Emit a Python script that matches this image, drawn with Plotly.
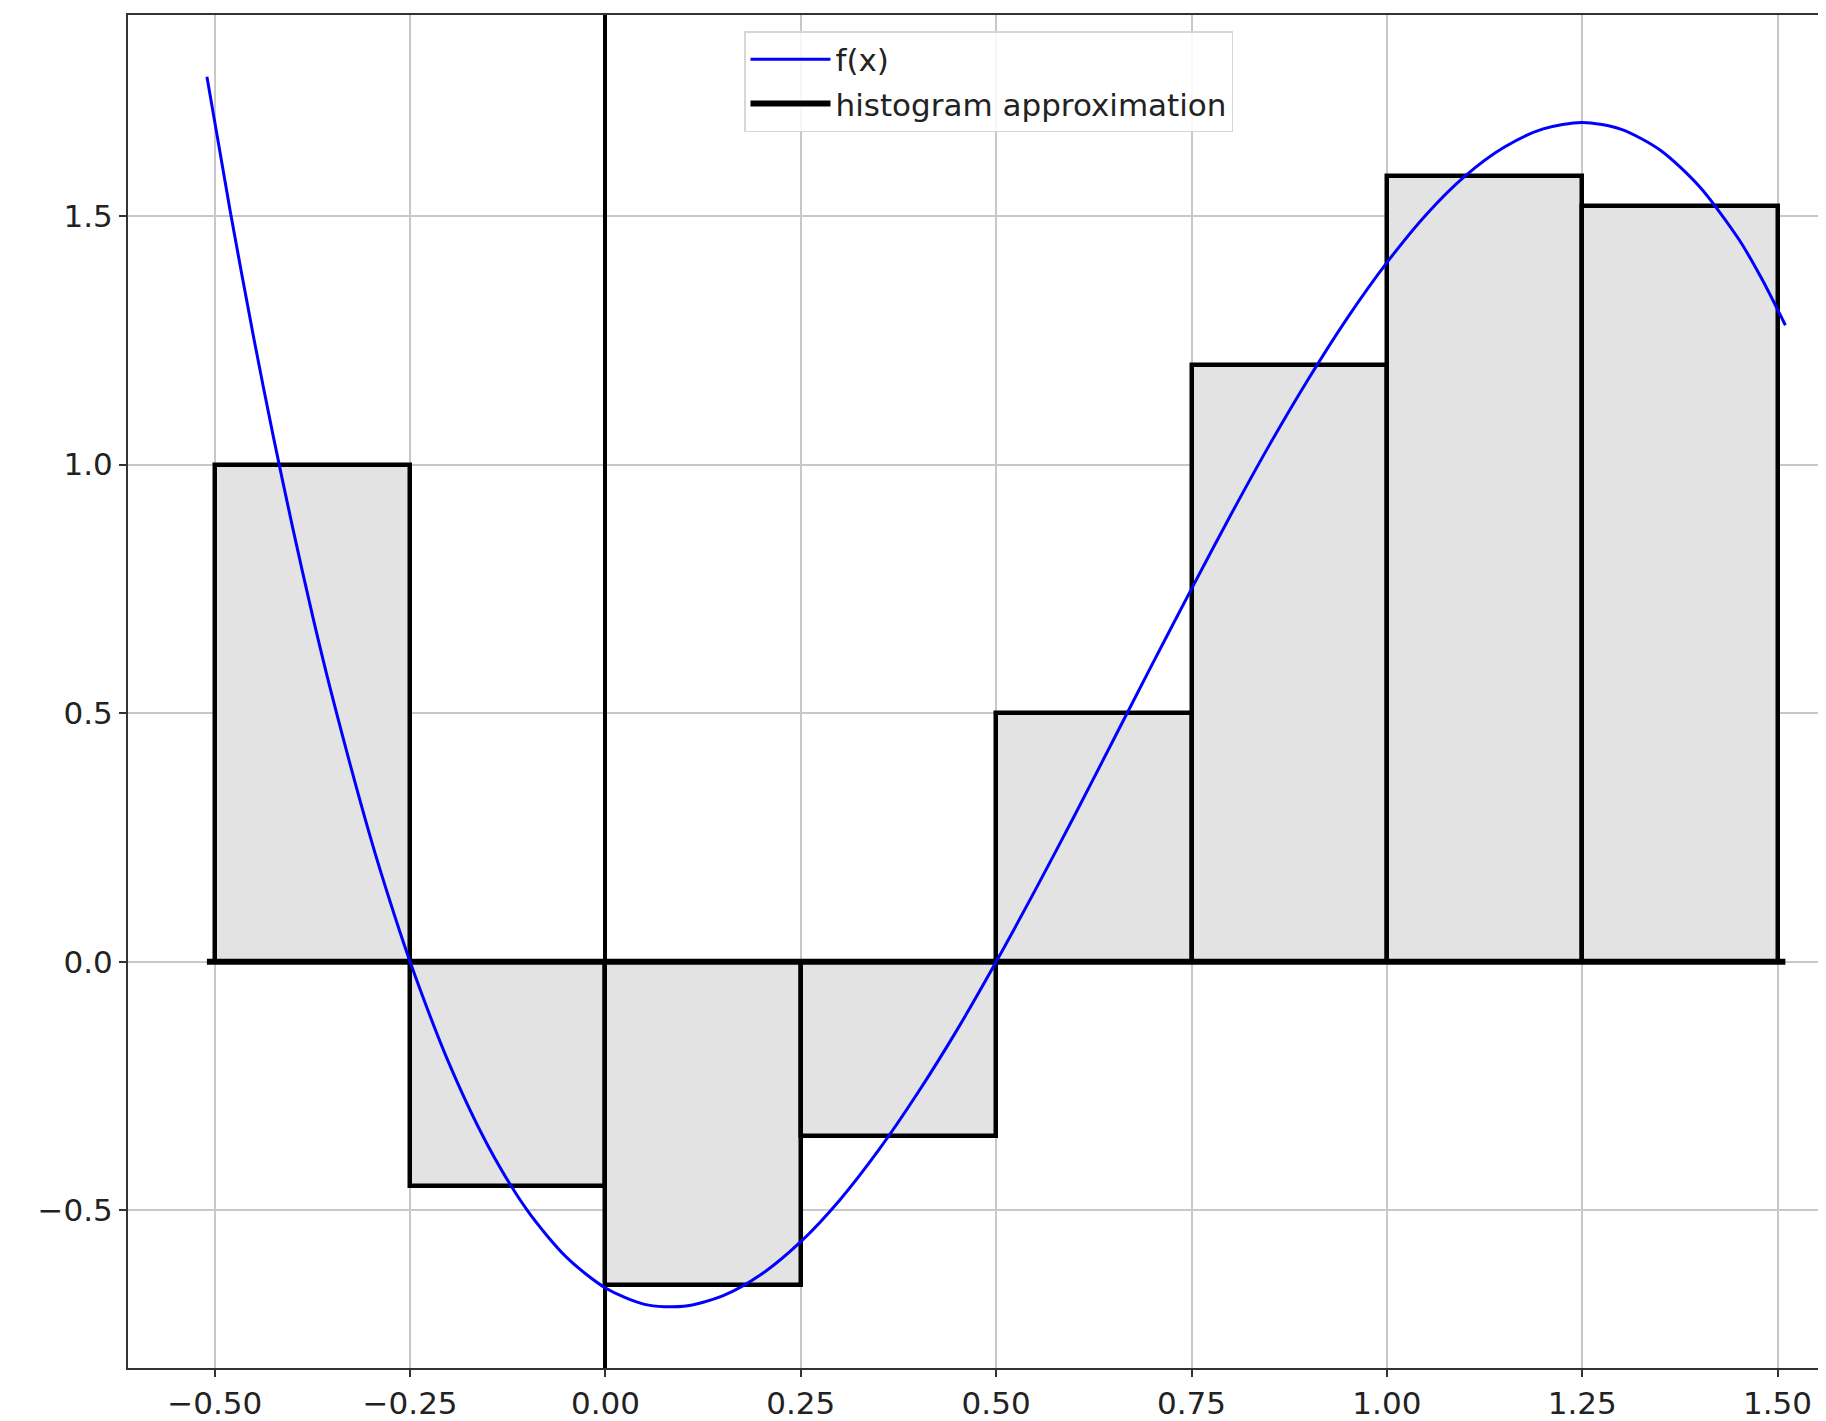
import plotly.graph_objects as go

# ---- data ----
bin_edges = [-0.5, -0.25, 0.0, 0.25, 0.5, 0.75, 1.0, 1.25, 1.5]
bar_heights = [1.0, -0.45, -0.65, -0.35, 0.5, 1.2, 1.58, 1.52]

curve_x = [-0.51, -0.48, -0.45, -0.425, -0.4, -0.375, -0.35, -0.3, -0.275, -0.25, -0.2, -0.15,
           -0.1, -0.05, 0.0, 0.05, 0.1, 0.15, 0.2, 0.25, 0.3, 0.35, 0.4, 0.45, 0.5, 0.55,
           0.6, 0.65, 0.7, 0.75, 0.8, 0.85, 0.9, 0.95, 1.0, 1.05, 1.1, 1.15, 1.2, 1.25,
           1.3, 1.35, 1.4, 1.45, 1.48, 1.51]
curve_y = [1.78, 1.508, 1.254, 1.056, 0.871, 0.697, 0.536, 0.246, 0.118, 0.0, -0.205, -0.371,
           -0.50, -0.594, -0.656, -0.689, -0.693, -0.672, -0.628, -0.563, -0.479, -0.378, -0.263, -0.137, 0.0, 0.144,
           0.293, 0.446, 0.599, 0.75, 0.898, 1.040, 1.173, 1.296, 1.406, 1.502, 1.580, 1.638, 1.675, 1.688,
           1.674, 1.632, 1.559, 1.454, 1.373, 1.280]

baseline_x = [-0.51, 1.51]
baseline_y = [0.0, 0.0]

x_ticks = [-0.5, -0.25, 0.0, 0.25, 0.5, 0.75, 1.0, 1.25, 1.5]
x_tick_labels = ["\u22120.50", "\u22120.25", "0.00", "0.25", "0.50", "0.75", "1.00", "1.25", "1.50"]
y_ticks = [-0.5, 0.0, 0.5, 1.0, 1.5]
y_tick_labels = ["\u22120.5", "0.0", "0.5", "1.0", "1.5"]

centers = [(a + b) / 2 for a, b in zip(bin_edges[:-1], bin_edges[1:])]
widths = [b - a for a, b in zip(bin_edges[:-1], bin_edges[1:])]

FONT = "DejaVu Sans"
fig = go.Figure()

fig.add_trace(go.Bar(
    x=centers, y=bar_heights, width=widths, base=0,
    marker=dict(color="#e3e3e3", line=dict(color="black", width=4.5)),
    showlegend=False, hoverinfo="skip",
))

fig.add_trace(go.Scatter(
    x=baseline_x, y=baseline_y, mode="lines",
    line=dict(color="black", width=6),
    name="histogram approximation", legendrank=2, legendgroup="h",
))

fig.add_trace(go.Scatter(
    x=curve_x, y=curve_y, mode="lines",
    line=dict(color="#0000ff", width=3, shape="spline", smoothing=0.8),
    name="f(x)", legendrank=1, legendgroup="f",
))

# page body has an 8px margin; figure is placed so the plot matches the target
W, H = 1818, 1413
L, T, B = 120, 7, 53
fig.update_layout(
    width=W, height=H,
    margin=dict(l=L, r=0, t=T, b=B),
    paper_bgcolor="white", plot_bgcolor="white",
    font=dict(family=FONT, size=31, color="#222222"),
    barmode="overlay", bargap=0,
    legend=dict(
        x=(736 - L) / (W - L), xanchor="left",
        y=1 - (23 - T) / (H - T - B), yanchor="top",
        bgcolor="rgba(255,255,255,0.85)",
        bordercolor="#d6d6d6", borderwidth=1.5,
        font=dict(family=FONT, size=31, color="#222222"),
        traceorder="grouped", tracegroupgap=1,
        itemwidth=80,
    ),
    showlegend=True,
)

fig.update_xaxes(
    range=[-0.611, 1.562],
    tickvals=x_ticks, ticktext=x_tick_labels,
    showgrid=True, gridcolor="#c8c8c8", gridwidth=1.8,
    zeroline=True, zerolinecolor="black", zerolinewidth=3.5,
    showline=True, linecolor="#333333", linewidth=2, mirror=True,
    ticks="outside", ticklen=7, tickwidth=1.6, tickcolor="#333333",
)
fig.update_yaxes(
    range=[-0.817, 1.904],
    tickvals=y_ticks, ticktext=y_tick_labels,
    showgrid=True, gridcolor="#c8c8c8", gridwidth=1.8,
    zeroline=False,
    showline=True, linecolor="#333333", linewidth=2, mirror=False,
    ticks="outside", ticklen=7, tickwidth=1.6, tickcolor="#333333",
)

fig.write_html("out.html")
